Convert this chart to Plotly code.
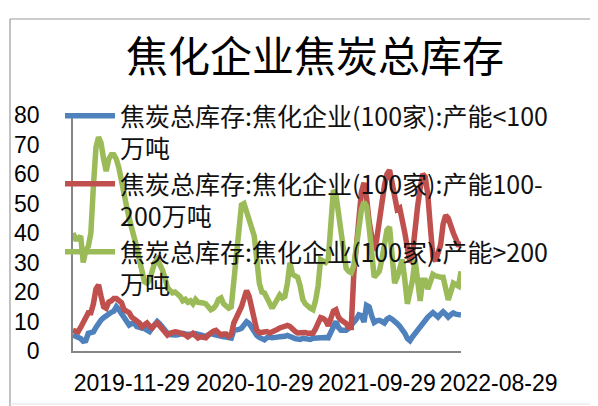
import datetime as dt
import plotly.graph_objects as go

start = dt.date(2019, 11, 29)

blue_lt100 = [5.4, 5, 4.8, 4.2, 3.3, 3.5, 6, 6.3, 6.5, 8, 9.5, 10.5, 11.3, 12, 12.9, 13.1, 13.5, 15, 14, 12.5,
              11, 9.5, 8.8, 9.3, 9.3, 8.3, 7.8, 7.8, 7.6, 7, 6.6, 7.8, 9.3, 10, 9.2, 8, 6.8, 6, 5.6, 5.4,
              5.4, 5.5, 5.8, 6, 5.8, 5.6, 5.4, 5.6, 5.9, 5.8, 5.4, 5.2, 4.9, 5.5, 6, 5.6, 5.3, 5, 4.8, 4.8,
              4.7, 4.5, 4.4, 7, 7, 7.3, 7.7, 8.5, 9.9, 9.3, 7.7, 6.2, 5.3, 4.6, 4, 3.8, 4.5, 4.8, 4.5, 4.4,
              4.7, 4.8, 4.8, 5, 5.3, 5.1, 4.6, 4.2, 3.8, 3.9, 4.3, 4.1, 3.8, 3.9, 4.3, 4.4, 4.4, 4.6, 4.8, 4.6,
              4.5, 6.5, 8.5, 10, 8, 7, 7, 7, 7.7, 8.5, 9.8, 10.8, 12.3, 12, 9.8, 15.5, 15, 12, 9.7, 10.2,
              10.4, 10, 9.5, 10.8, 11.3, 10.8, 10.3, 9.3, 8.4, 7.4, 6, 4.2, 3.5, 4.8, 6, 7, 8.3, 9.5, 10.5, 11.5,
              12.3, 13, 12.3, 11.5, 12.5, 13.3, 12.5, 11.5, 12.3, 12.9, 12.5, 12.2, 12.2]

red_100_200 = [7, 6.5, 6.5, 8, 9.5, 11.5, 13, 13, 16, 21, 22.4, 18.5, 15, 14.5, 16.6, 17, 17.8, 17.8, 17.2, 16.4,
               14, 13.3, 13, 11.5, 11, 10.5, 9.5, 8.2, 8.8, 9.5, 8.5, 7.8, 8.8, 9.5, 8.5, 7.5, 6, 5.4, 6, 6.5,
               6.5, 6.4, 6.2, 6, 5.5, 4.8, 5.4, 6, 5.2, 4.4, 4.8, 4.6, 4.5, 5.4, 6.2, 6.7, 7, 6, 5.4, 5.8,
               5.8, 5, 5.5, 9.5, 11.3, 13, 15, 17.8, 20.5, 18.5, 14, 9.5, 7, 6.2, 6.3, 6.8, 6.6, 6.1, 6.4, 6.9,
               7.3, 7.8, 8, 8.4, 8.7, 8.3, 7.3, 6.7, 6.1, 6.2, 6.5, 6.3, 6, 6, 6, 7.5, 10, 11.3, 11, 10.3,
               8.5, 11, 13.5, 14, 11.5, 10.5, 10, 9.3, 8, 8, 26, 37, 47, 54, 57, 52, 44, 38, 34, 38,
               45, 51, 56, 60, 61.3, 57, 51, 48, 48.5, 45, 40, 35, 30, 33, 42, 49, 55, 60, 59, 53,
               42, 32, 30.5, 33, 36, 43, 46, 45, 42, 40, 38, 35.5, 37]

green_gt200 = [40, 38, 38, 39, 30, 34, 35.5, 40, 56, 69, 72.5, 70.5, 65, 61, 65, 66.5, 66.5, 65, 62, 57,
               53, 49, 45, 42, 38, 35, 31, 26, 23.5, 23, 24, 27, 30, 31, 29.5, 27.5, 25, 21.5, 20.5, 19.7,
               20, 19.5, 18.5, 17, 17.5, 16.5, 17, 16, 17.5, 16.5, 16.6, 16.3, 16, 15, 14, 14.5, 15.5, 17.5, 18, 16,
               15.3, 14.5, 15, 24, 31, 43, 49.5, 50, 47, 44.5, 42.5, 39, 31, 23, 20, 19.7, 18, 16, 14.5, 16,
               17.5, 19, 18, 18.5, 23, 30, 26, 25.5, 25, 22, 17.5, 16, 15, 14.5, 14, 17, 22, 31, 30.5, 30,
               31, 45, 54.5, 53, 47, 41, 32, 28, 27, 26.5, 29, 36, 42, 48, 50.5, 49, 42, 32, 25, 26,
               27, 31, 36, 41, 42, 30, 23, 25, 28, 31, 24, 16, 20, 24, 31, 22, 17, 24, 24, 21,
               23, 26, 25.5, 25, 25, 25, 21, 17.3, 20, 23, 22.5, 22, 27]

dates = [start + dt.timedelta(days=7 * i) for i in range(len(blue_lt100))]

series_names = [
    "焦炭总库存:焦化企业(100家):产能&lt;100<br>万吨",
    "焦炭总库存:焦化企业(100家):产能100-<br>200万吨",
    "焦炭总库存:焦化企业(100家):产能&gt;200<br>万吨",
]
series_values = [blue_lt100, red_100_200, green_gt200]
series_colors = ["#4F81BD", "#C0504D", "#9BBB59"]

tick_dates = ["2019-11-29", "2020-10-29", "2021-09-29", "2022-08-29"]
tick_labels = ["2019-11-29", "2020-10-29", "2021-09-29", "2022-08-29"]

title_text = "焦化企业焦炭总库存"

fig = go.Figure()
for name, vals, col in zip(series_names, series_values, series_colors):
    fig.add_trace(go.Scatter(x=dates, y=vals, mode="lines", name=name,
                             line=dict(color=col, width=5.5)))

# page body has an 8px margin; lay out in reference pixels minus that offset
OFF = 8
W, H = 598 - OFF, 406 - OFF


def px(x):
    return (x - OFF) / W


def py(y):
    return 1 - (y - OFF) / H


axis_gray = "#868686"

fig.update_layout(
    width=W, height=H, autosize=False,
    margin=dict(l=0, r=0, t=0, b=0, pad=0),
    paper_bgcolor="white", plot_bgcolor="white",
    title=dict(text=title_text, x=px(315), xanchor="center", y=py(57), yanchor="middle",
               automargin=False,
               font=dict(family="Noto Sans CJK SC", size=42, color="black")),
    legend=dict(x=px(60), xanchor="left", y=py(93), yanchor="top", valign="top",
                bgcolor="rgba(0,0,0,0)", itemwidth=50, tracegroupgap=0,
                font=dict(family="Noto Sans CJK SC", size=25, color="#111")),
    xaxis=dict(type="date", domain=[px(73), px(461)], automargin=False,
               range=[dates[0], dates[-1]],
               tickvals=tick_dates, ticktext=tick_labels, tickangle=0,
               ticklabelposition="outside right",
               showline=True, linecolor=axis_gray, linewidth=1.5,
               showgrid=False, zeroline=False, ticks="", ticklabelstandoff=11,
               tickfont=dict(family="Liberation Sans", size=23, color="black")),
    yaxis=dict(domain=[py(351), py(115)], range=[0, 80], dtick=10, automargin=False,
               showline=True, linecolor=axis_gray, linewidth=1.5,
               showgrid=False, zeroline=False, ticks="", ticklabelstandoff=27,
               tickfont=dict(family="Liberation Sans", size=23, color="black")),
    shapes=[
        dict(type="line", xref="paper", yref="paper", x0=px(10), x1=1, y0=py(19), y1=py(19),
             line=dict(color="#9a9a9a", width=1.2)),
        dict(type="line", xref="paper", yref="paper", x0=px(10), x1=px(10), y0=0, y1=py(19),
             line=dict(color="#9a9a9a", width=1.2)),
        dict(type="line", xref="paper", yref="paper", x0=px(10), x1=1, y0=py(404), y1=py(404),
             line=dict(color="#e0e0e0", width=1)),
    ],
)

fig.write_html("out.html")
